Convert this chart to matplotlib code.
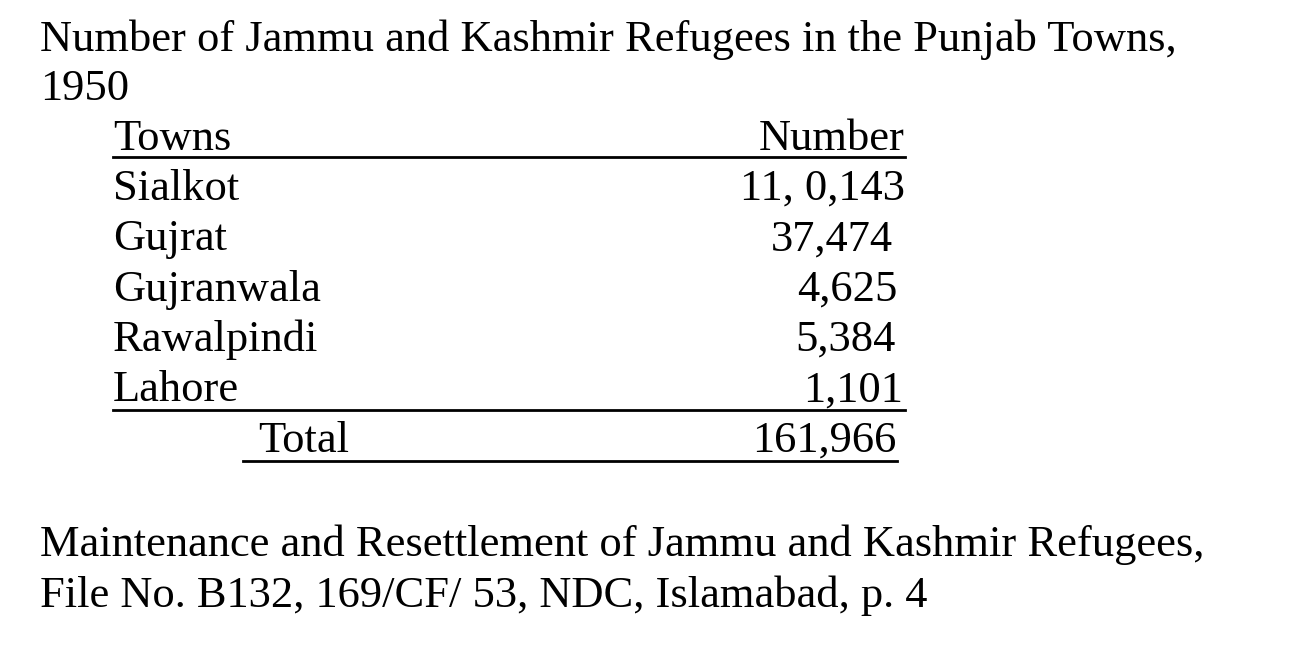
import matplotlib
matplotlib.use("Agg")
import matplotlib.pyplot as plt

title_lines = ["Number of Jammu and Kashmir Refugees in the Punjab Towns,", "1950"]
header = ["Towns", "Number"]
towns = ["Sialkot", "Gujrat", "Gujranwala", "Rawalpindi", "Lahore"]
numbers = ["11, 0,143", "37,474", "4,625", "5,384", "1,101"]
num_right = [905, 893, 897, 896, 903]
total_label = "Total"
total_value = "161,966"
source_lines = ["Maintenance and Resettlement of Jammu and Kashmir Refugees,",
                "File No. B132, 169/CF/ 53, NDC, Islamabad, p. 4"]

W, H = 1312, 648
fig = plt.figure(figsize=(W/100, H/100), dpi=100)
fig.patch.set_facecolor("white")
FS = 32
FAM = "Liberation Serif"

def T(x, y, s, ha="left"):
    fig.text(x/W, 1-y/H, s, ha=ha, va="center", fontsize=FS, family=FAM, color="black")

def L(x0, x1, y):
    fig.add_artist(plt.Line2D([x0/W, x1/W], [1-y/H, 1-y/H], color="black", lw=2))

T(40, 40, title_lines[0]); T(40, 89, title_lines[1])
T(113, 139, header[0]); T(905, 139, header[1], ha="right")
L(113, 905, 157)
for i, (t, n) in enumerate(zip(towns, numbers)):
    y = 189 + i*50.3
    T(113, y, t); T(num_right[i], y, n, ha="right")
L(113, 905, 410)
T(258, 441, total_label); T(897, 441, total_value, ha="right")
L(243, 897, 461)
T(40, 545, source_lines[0]); T(40, 596, source_lines[1])
fig.savefig("out.png", dpi=100, facecolor="white")
